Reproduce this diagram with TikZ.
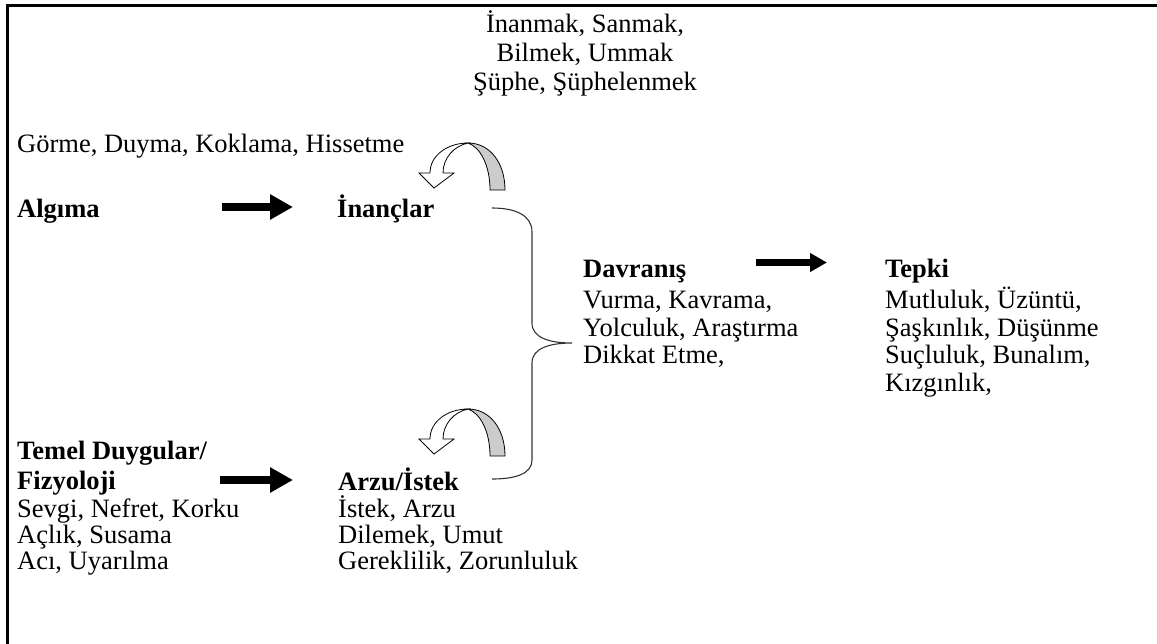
\documentclass[tikz,border=0pt]{standalone}
\usepackage{fontspec}
\setmainfont{Liberation Serif}
\usetikzlibrary{arrows.meta}
\tikzset{
  txt/.style={anchor=base west, inner sep=0pt, font=\fontsize{26.5}{30}\selectfont},
  btxt/.style={txt, font=\fontsize{26.5}{30}\selectfont\bfseries},
  ctxt/.style={txt, anchor=base},
  fatarrow/.style={line width=8pt, -{Triangle[length=23pt,width=24pt]}},
  midarrow/.style={line width=6.5pt, -{Triangle[length=17pt,width=18pt]}},
  frameline/.style={line width=2.5pt, line cap=rect},
  bracket/.style={line width=1.1pt, draw=black!80},
  curvarrow/.pic={
    \draw[line width=0.8pt, fill=white] (-38,30) .. controls (-38,12) and (-20,0) .. (0,0)
      .. controls (-14,3) and (-25,15) .. (-25,30) -- (-14,30) -- (-34,45) -- (-49,30) -- cycle;
    \draw[line width=0.8pt, fill=black!20] (0,0) .. controls (22,0) and (37,20) .. (37,47)
      -- (22,47) .. controls (22,22) and (12,4) .. (0,0) -- cycle;
  }
}
\begin{document}
\begin{tikzpicture}[x=1pt, y=-1pt]
\useasboundingbox (0,0) rectangle (1157,643);
% frame
\coordinate (fr1) at (7.5,643);
\coordinate (fr2) at (7.5,5.5);
\coordinate (fr3) at (1157,5.5);
\draw[frameline] (fr1) -- (fr2) -- (fr3);
% top words
\node[ctxt] (t1) at (585,32) {İnanmak, Sanmak,};
\node[ctxt] (t2) at (585,61) {Bilmek, Ummak};
\node[ctxt] (t3) at (585,90) {Şüphe, Şüphelenmek};
% left column
\node[txt] (gorme) at (17,152) {Görme, Duyma, Koklama, Hissetme};
\node[btxt] (algima) at (17,217) {Algıma};
\node[btxt] (inanclar) at (337,217) {İnançlar};
\node[btxt] (temel) at (17,459) {Temel Duygular/};
\node[btxt] (fizyoloji) at (17,489) {Fizyoloji};
\node[txt] (f1) at (17,517) {Sevgi, Nefret, Korku};
\node[txt] (f2) at (17,543) {Açlık, Susama};
\node[txt] (f3) at (17,569) {Acı, Uyarılma};
\node[btxt] (arzu) at (338,490) {Arzu/İstek};
\node[txt] (a1) at (338,517) {İstek, Arzu};
\node[txt] (a2) at (338,543) {Dilemek, Umut};
\node[txt] (a3) at (338,569) {Gereklilik, Zorunluluk};
% middle
\node[btxt] (davranis) at (583,277) {Davranış};
\node[txt] (d1) at (583,308) {Vurma, Kavrama,};
\node[txt] (d2) at (583,336) {Yolculuk, Araştırma};
\node[txt] (d3) at (583,363.5) {Dikkat Etme,};
\node[btxt] (tepki) at (885,277) {Tepki};
\node[txt] (p1) at (885,308) {Mutluluk, Üzüntü,};
\node[txt] (p2) at (885,336) {Şaşkınlık, Düşünme};
\node[txt] (p3) at (885,363.5) {Suçluluk, Bunalım,};
\node[txt] (p4) at (885,391) {Kızgınlık,};
% fat arrows
\coordinate (ar1s) at (222,207);
\coordinate (ar1e) at (293,207);
\draw[fatarrow] (ar1s) -- (ar1e);
\coordinate (ar2s) at (220,480);
\coordinate (ar2e) at (293,480);
\draw[fatarrow] (ar2s) -- (ar2e);
\coordinate (ar3s) at (756,262.5);
\coordinate (ar3e) at (827,262.5);
\draw[midarrow] (ar3s) -- (ar3e);
% curved arrows
\pic (ca1) at (468,143) {curvarrow};
\pic (ca2) at (468,409) {curvarrow};
% brace
\coordinate (br1) at (492,208);
\coordinate (brtip) at (572,343);
\coordinate (br2) at (492,479);
\draw[bracket] (br1) .. controls (515,208) and (532,215) .. (532,232) -- (532,323)
  .. controls (532,338) and (550,343) .. (brtip)
  .. controls (550,343) and (532,348) .. (532,363) -- (532,460)
  .. controls (532,474) and (515,479) .. (br2);
\end{tikzpicture}
\end{document}
